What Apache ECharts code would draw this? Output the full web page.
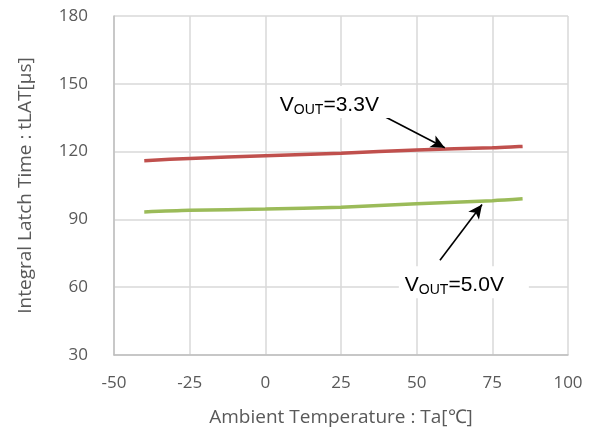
<!DOCTYPE html>
<html>
<head>
<meta charset="utf-8">
<script src="https://cdn.jsdelivr.net/npm/echarts@6/dist/echarts.min.js"></script>
<style>
  html, body { margin: 0; padding: 0; background: #fff; }
  #chart { width: 600px; height: 432px; }
</style>
</head>
<body>
<div id="chart"></div>
<script>
// temperatures and latch times
var temps = [-40, -25, 0, 25, 50, 75, 85];
var vout33 = [116, 117, 118.2, 119.3, 120.7, 121.7, 122.3];
var vout50 = [93.3, 94, 94.6, 95.4, 96.9, 98.3, 99.1];

// annotation arrows (tail -> head, data coords)
var arrow33 = [[38.9, 135.9], [59.3, 121.7]];
var arrow50 = [[57.7, 71.9], [71.6, 96.6]];
var label33 = [1.0, 142];
var label50 = [42.3, 62.2];

function pairs(xs, ys) {
  return xs.map(function (x, i) { return [x, ys[i]]; });
}

var labelRich = {
  v: { fontFamily: 'Liberation Sans', fontSize: 21, color: '#000', lineHeight: 22 },
  s: { fontFamily: 'Liberation Sans', fontSize: 14, color: '#000', lineHeight: 22, padding: [10, 0, 0, 0] }
};

function noteLabel(pos, text) {
  return {
    symbol: 'none',
    markPoint: {
      symbol: 'rect',
      symbolSize: 1,
      itemStyle: { color: 'transparent' },
      label: {
        show: true,
        position: 'right',
        distance: 5,
        formatter: text,
        rich: labelRich,
        backgroundColor: '#fff',
        padding: [8, 25, 2, 6]
      },
      data: [{ coord: pos }]
    }
  };
}

function arrowLine(a) {
  return {
    symbol: ['none', 'arrow'],
    symbolSize: [10, 14],
    silent: true,
    label: { show: false },
    lineStyle: { color: '#000', width: 1.6, type: 'solid' },
    data: [[{ coord: a[0] }, { coord: a[1] }]]
  };
}

var axisFont = { fontFamily: 'Open Sans', fontSize: 17, color: '#595959' };
var nameFont = { fontFamily: 'Open Sans', fontSize: 19, color: '#595959' };

var chart = echarts.init(document.getElementById('chart'));
var option = {
  animation: false,
  grid: { left: 114, right: 32, top: 16, bottom: 76 },
  xAxis: {
    type: 'value',
    min: -50,
    max: 100,
    interval: 25,
    name: 'Ambient Temperature : Ta[\u2103]',
    nameLocation: 'middle',
    nameGap: 53,
    nameTextStyle: nameFont,
    axisLine: { onZero: false, lineStyle: { color: '#bfbfbf', width: 1.5 } },
    axisTick: { show: false },
    axisLabel: Object.assign({ margin: 20 }, axisFont),
    splitLine: { lineStyle: { color: '#d9d9d9', width: 1.5 } }
  },
  yAxis: {
    type: 'value',
    min: 30,
    max: 180,
    interval: 30,
    name: 'Integral Latch Time : tLAT[\u03bcs]',
    nameLocation: 'middle',
    nameGap: 79,
    nameTextStyle: nameFont,
    axisLine: { show: true, onZero: false, lineStyle: { color: '#bfbfbf', width: 1.5 } },
    axisTick: { show: false },
    axisLabel: Object.assign({ margin: 26 }, axisFont),
    splitLine: { lineStyle: { color: '#d9d9d9', width: 1.5 } }
  },
  series: [
    {
      type: 'line',
      data: pairs(temps, vout33),
      smooth: 0.3,
      showSymbol: false,
      lineStyle: { color: '#c0504d', width: 3.5 },
      z: 3
    },
    {
      type: 'line',
      data: pairs(temps, vout50),
      smooth: 0.3,
      showSymbol: false,
      lineStyle: { color: '#9bbb59', width: 3.5 },
      z: 3
    },
    Object.assign({ type: 'line', data: [], z: 4 }, noteLabel(label33, '{v|V}{s|OUT}{v|=3.3V}')),
    Object.assign({ type: 'line', data: [], z: 4 }, noteLabel(label50, '{v|V}{s|OUT}{v|=5.0V}')),
    { type: 'line', data: [], z: 5, markLine: arrowLine(arrow33) },
    { type: 'line', data: [], z: 5, markLine: arrowLine(arrow50) }
  ]
};
chart.setOption(option);
</script>
</body>
</html>
